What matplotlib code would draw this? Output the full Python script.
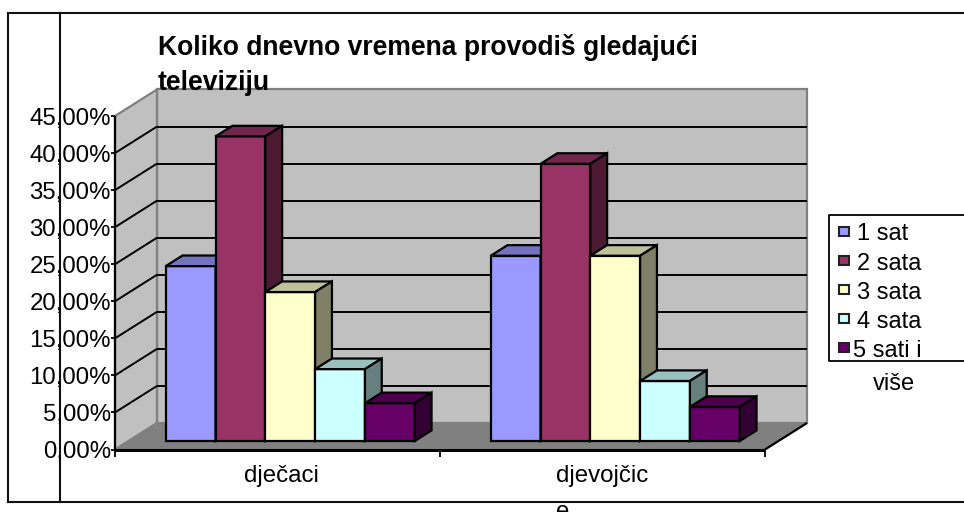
import matplotlib
matplotlib.use("Agg")
import matplotlib.pyplot as plt
from matplotlib.patches import Rectangle

plt.rcParams['font.family'] = ['Liberation Sans', 'DejaVu Sans']

# values (percent)
categories = ['dječaci', 'djevojčic\ne']
series_names = ['1 sat', '2 sata', '3 sata', '4 sata', '5 sati i']
boys = [23.6, 41.1, 20.1, 9.7, 5.1]
girls = [25.0, 37.4, 25.0, 8.1, 4.6]
y_ticks = [0, 5, 10, 15, 20, 25, 30, 35, 40, 45]
y_labels = ['0,00%', '5,00%', '10,00%', '15,00%', '20,00%', '25,00%', '30,00%', '35,00%', '40,00%', '45,00%']

front_colors = ['#9999FF', '#993366', '#FFFFCC', '#CCFFFF', '#660066']
top_colors = ['#7373BF', '#73264D', '#BFBF99', '#99BFBF', '#4D004D']
side_colors = ['#4D4D80', '#4D1A33', '#808066', '#668080', '#330033']

W, H = 964, 512
fig = plt.figure(figsize=(W / 100, H / 100), dpi=100)

# page layer in pixels, for the table frame and the legend
bg = fig.add_axes([0, 0, 1, 1])
bg.set_xlim(0, W)
bg.set_ylim(H, 0)
bg.axis('off')

# chart axes sit on the front plane of the 3D box
ax = fig.add_axes([115 / W, 1 - 449.5 / H, 650 / W, 333.5 / H])
ax.set_xlim(0, 2)
ax.set_ylim(0, 45)
ax.patch.set_visible(False)
for s in ax.spines.values():
    s.set_visible(False)

# depth of the box in data units
DX = 42 / 325
DY = 26.5 / 7.41


def pt(x, v, d):
    return (x + d * DX, v + d * DY)


def face(pts, color, edge='black', lw=1.6, z=2):
    ax.fill([p[0] for p in pts], [p[1] for p in pts], facecolor=color, edgecolor=edge,
            linewidth=lw, clip_on=False, zorder=z, joinstyle='miter')


def seg(a, b, color='black', lw=1.4, z=2.5):
    ax.plot([a[0], b[0]], [a[1], b[1]], color=color, lw=lw, clip_on=False, zorder=z,
            solid_capstyle='butt')


# walls and floor
face([pt(0, 0, 1), pt(2, 0, 1), pt(2, 45, 1), pt(0, 45, 1)], '#C0C0C0', '#808080', 1.6, 1)
face([pt(0, 0, 0), pt(0, 45, 0), pt(0, 45, 1), pt(0, 0, 1)], '#C0C0C0', '#808080', 1.6, 1)
face([pt(0, 0, 0), pt(2, 0, 0), pt(2, 0, 1), pt(0, 0, 1)], '#808080', '#808080', 1, 1.2)

for v in y_ticks[1:-1]:
    seg(pt(0, v, 0), pt(0, v, 1), z=1.5)
    seg(pt(0, v, 1), pt(2, v, 1), z=1.5)
seg(pt(2, 0, 0), pt(2, 0, 1), lw=1.6, z=1.5)

# front axis lines and ticks
seg(pt(0, 0, 0), pt(2, 0, 0), lw=2.2)
seg(pt(0, 0, 0), pt(0, 45, 0), lw=1.6)
ax.set_yticks(y_ticks, y_labels, fontsize=17.3, color='black')
ax.set_xticks([0, 1, 2], ['', '', ''])
ax.tick_params(axis='y', length=3, width=1.3, pad=0)
ax.tick_params(axis='x', length=5, width=1.3)

# bars, painted left to right
bar_w = 49.8 / 325
gap = 37.3 / 325
d_front, d_back = 0.32, 0.72
for c, values in enumerate([boys, girls]):
    for i, v in enumerate(values):
        x0 = c + gap + i * bar_w
        x1 = x0 + bar_w
        z = 3 + c + i * 0.1
        face([pt(x0, 0, d_front), pt(x1, 0, d_front), pt(x1, v, d_front), pt(x0, v, d_front)], front_colors[i], z=z)
        face([pt(x0, v, d_front), pt(x1, v, d_front), pt(x1, v, d_back), pt(x0, v, d_back)], top_colors[i], z=z)
        face([pt(x1, 0, d_front), pt(x1, 0, d_back), pt(x1, v, d_back), pt(x1, v, d_front)], side_colors[i], z=z)

# category labels, set by hand because the wrapped one runs off the page
label_dx = [2.5, 0]
for c, label in enumerate(categories):
    ax.annotate(label, xy=(c + 0.5, 0), xycoords='data', xytext=(label_dx[c], -11), textcoords='offset points',
                ha='center', va='top', fontsize=17.3, color='black', annotation_clip=False,
                linespacing=1.84, multialignment='left')

# table frame
bg.plot([8, 8], [13, 501.5], color='#111111', lw=1.5)
bg.plot([60, 60], [13, 501.5], color='#111111', lw=1.5, zorder=5)
bg.plot([8, W], [13, 13], color='#111111', lw=1.5)
bg.plot([8, W], [501.5, 501.5], color='#111111', lw=1.5)

# title goes over the back wall
fig.text(158 / W, 1 - 55 / H, 'Koliko dnevno vremena provodiš gledajući', fontsize=19.1, fontweight='bold',
         va='baseline', color='black', zorder=6)
fig.text(158 / W, 1 - 90 / H, 'televiziju', fontsize=19.1, fontweight='bold', va='baseline', color='black', zorder=6)

# legend
bg.plot([W, 829, 829, W], [215, 215, 360.5, 360.5], color='black', lw=1.3)
marker_y = [231, 260.5, 289, 318, 347]
text_y = [240.5, 270, 299, 328, 357]
text_x = [857, 857, 857, 857, 853]
for name, my, ty, tx, col in zip(series_names, marker_y, text_y, text_x, front_colors):
    bg.add_patch(Rectangle((838.5, my - 4.5), 10, 9, facecolor=col, edgecolor='#222222', lw=1.5))
    bg.text(tx, ty, name, fontsize=17, va='baseline', color='black')
bg.text(894, 390, 'više', fontsize=17, ha='center', va='baseline', color='black')

fig.savefig('out.png', dpi=100)
